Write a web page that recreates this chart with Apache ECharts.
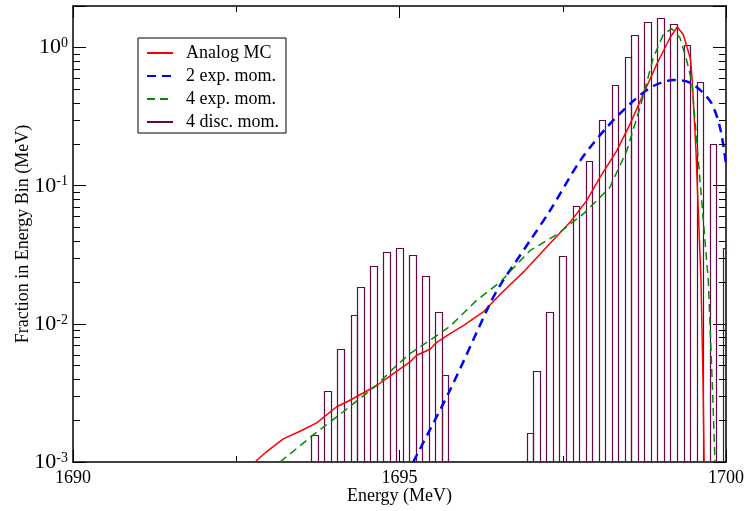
<!DOCTYPE html>
<html>
<head>
<meta charset="utf-8">
<script src="https://cdn.jsdelivr.net/npm/echarts@6/dist/echarts.min.js"></script>
<style>
html,body{margin:0;padding:0;background:#fff;}
#chart{width:747px;height:511px;}
</style>
</head>
<body>
<div id="chart"></div>
<script>
// ---------- data ----------
const X_MIN = 1690, X_MAX = 1700;
const Y_MIN = 0.001, Y_MAX = 2;
const X_TICKS = [1690, 1695, 1700];
const Y_TICK_EXPONENTS = [-3, -2, -1, 0];

const SERIES_NAMES = ['Analog MC', '2 exp. mom.', '4 exp. mom.', '4 disc. mom.'];

// Analog MC
const mcE = [1692.787, 1692.966, 1693.22, 1693.476, 1693.732, 1694.038, 1694.242, 1694.651, 1694.905, 1695.161,
             1695.263, 1695.467, 1695.57, 1695.773, 1695.977, 1696.283, 1696.539, 1696.92, 1697.3, 1697.611,
             1697.866, 1698.07, 1698.326, 1698.53, 1698.733, 1698.939, 1699.142, 1699.254, 1699.346, 1699.457,
             1699.484, 1699.54, 1699.617, 1699.648, 1699.665];
const mcV = [1.0e-3, 1.19e-3, 1.47e-3, 1.67e-3, 1.92e-3, 2.51e-3, 2.8e-3, 3.58e-3, 4.37e-3, 5.3e-3,
             5.93e-3, 6.55e-3, 7.35e-3, 8.49e-3, 9.7e-3, 0.0122, 0.0163, 0.0243, 0.038, 0.0543,
             0.078, 0.115, 0.179, 0.279, 0.459, 0.757, 1.178, 1.41, 1.245, 0.822,
             0.573, 0.179, 0.0206, 0.0039, 1.0e-3];

// 2 exp. mom.
const exp2E = [1695.21, 1695.773, 1696.386, 1696.539, 1697.0, 1697.305, 1697.764, 1698.173, 1698.58, 1698.887,
               1699.193, 1699.449, 1699.755, 1699.908, 1700.0];
const exp2V = [1.0e-3, 3.31e-3, 0.014, 0.019, 0.0401, 0.066, 0.151, 0.264, 0.411, 0.527,
               0.582, 0.557, 0.411, 0.264, 0.144];

// 4 exp. mom.
const exp4E = [1693.17, 1693.68, 1694.038, 1694.446, 1694.651, 1694.905, 1695.161, 1695.467, 1695.773, 1696.18,
               1696.539, 1697.0, 1697.4, 1697.815, 1698.22, 1698.48, 1698.683, 1698.887, 1699.04, 1699.168,
               1699.295, 1699.4, 1699.475, 1699.602, 1699.729, 1699.755, 1699.8, 1699.83];
const exp4V = [1.0e-3, 1.57e-3, 2.12e-3, 3.01e-3, 3.6e-3, 4.75e-3, 6.1e-3, 7.6e-3, 9.6e-3, 0.0148,
               0.02, 0.034, 0.044, 0.0625, 0.097, 0.179, 0.367, 0.844, 1.245, 1.37,
               1.18, 0.8, 0.573, 0.109, 0.0206, 0.01, 2.8e-3, 1.0e-3];

// 4 disc. mom. histogram: bin left edges and heights
const BIN_W = 0.1;
const discStart = [1693.65, 1693.85, 1694.05, 1694.25, 1694.35, 1694.55, 1694.75, 1694.95, 1695.15, 1695.35, 1695.55, 1695.65,
                   1696.95, 1697.05, 1697.25, 1697.45, 1697.65, 1697.85, 1698.05, 1698.25, 1698.45, 1698.55, 1698.75,
                   1698.95, 1699.15, 1699.35, 1699.55, 1699.75, 1699.95];
const discV = [1.57e-3, 3.29e-3, 6.58e-3, 0.01165, 0.01854, 0.02642, 0.0332, 0.0355, 0.0316, 0.0223, 0.01225, 4.23e-3,
               1.62e-3, 4.54e-3, 0.01225, 0.031, 0.0717, 0.152, 0.301, 0.533, 0.857, 1.23, 1.54,
               1.64, 1.47, 1.05, 0.56, 0.2, 0.0352];

// log-axis minor tick values (2..9 x 10^k)
const MINOR_MULT = [2, 3, 4, 5, 6, 7, 8, 9];

// ---------- styling ----------
const FONT = 'Liberation Serif';
const RED = '#ff0000', BLUE = '#0000ff', GREEN = '#008b00', MAROON = '#670748';

const minorY = [];
Y_TICK_EXPONENTS.forEach(e => MINOR_MULT.forEach(m => {
  const v = m * Math.pow(10, e);
  if (v < Y_MAX) minorY.push([X_MIN, v]);
}));

function pairs(a, b) { return a.map((x, i) => [x, b[i]]); }

const chart = echarts.init(document.getElementById('chart'), null, {renderer: 'canvas'});

const axisLineStyle = {color: '#000', width: 1.5};
const tickStyle = {color: '#000', width: 1};

function yLabel(value) {
  const e = Math.round(Math.log10(value));
  if (Y_TICK_EXPONENTS.indexOf(e) < 0) return '';
  if (Math.abs(value / Math.pow(10, e) - 1) > 1e-6) return '';
  return '{b|10}{s|' + e + '}';
}

const option = {
  backgroundColor: '#fff',
  animation: false,
  grid: {left: 73, right: 21, top: 6, bottom: 49, containLabel: false, outerBoundsMode: 'none'},
  legend: {
    orient: 'vertical', left: 138, top: 38,
    data: SERIES_NAMES,
    itemWidth: 26, itemHeight: 14, itemGap: 5,
    borderColor: '#000', borderWidth: 1, borderRadius: 0,
    padding: [6, 7, 2, 8],
    selectedMode: false,
    itemStyle: {opacity: 0},
    textStyle: {fontFamily: FONT, fontSize: 18, color: '#000', lineHeight: 18, padding: [0, 0, 0, 8]}
  },
  xAxis: [
    {
      type: 'value', min: X_MIN, max: X_MAX, interval: 5, position: 'bottom',
      axisLine: {lineStyle: axisLineStyle},
      axisTick: {inside: true, length: 12, lineStyle: tickStyle},
      minorTick: {show: true, splitNumber: 2, length: 6, lineStyle: tickStyle},
      splitLine: {show: false}, minorSplitLine: {show: false},
      axisLabel: {fontFamily: FONT, fontSize: 18, color: '#000', margin: 7,
                  formatter: v => (X_TICKS.indexOf(Math.round(v)) >= 0 ? String(Math.round(v)) : '')},
      name: 'Energy (MeV)', nameLocation: 'middle', nameGap: 25, nameMoveOverlap: false,
      nameTextStyle: {fontFamily: FONT, fontSize: 18, color: '#000'}
    },
    {
      type: 'value', min: X_MIN, max: X_MAX, interval: 5, position: 'top',
      axisLine: {lineStyle: axisLineStyle},
      axisTick: {inside: true, length: 12, lineStyle: tickStyle},
      minorTick: {show: true, splitNumber: 2, length: 6, lineStyle: tickStyle},
      splitLine: {show: false}, minorSplitLine: {show: false},
      axisLabel: {show: false}
    }
  ],
  yAxis: [
    {
      type: 'log', logBase: 10, min: Y_MIN, max: Y_MAX, position: 'left',
      axisLine: {lineStyle: axisLineStyle},
      axisTick: {inside: true, length: 13, lineStyle: tickStyle},
      splitLine: {show: false},
      axisLabel: {
        margin: 5, formatter: yLabel,
        rich: {
          b: {fontFamily: FONT, fontSize: 22, color: '#000', lineHeight: 22},
          s: {fontFamily: FONT, fontSize: 14, color: '#000', lineHeight: 14, verticalAlign: 'top'}
        }
      },
      name: 'Fraction in Energy Bin (MeV)', nameLocation: 'middle', nameGap: 41, nameMoveOverlap: false,
      nameTextStyle: {fontFamily: FONT, fontSize: 18, color: '#000'}
    },
    {
      type: 'log', logBase: 10, min: Y_MIN, max: Y_MAX, position: 'right',
      axisLine: {lineStyle: axisLineStyle},
      axisTick: {inside: true, length: 13, lineStyle: tickStyle},
      splitLine: {show: false},
      axisLabel: {show: false}
    }
  ],
  series: [
    {
      name: 'hist', type: 'custom', xAxisIndex: 0, yAxisIndex: 0, clip: true, silent: true, z: 2,
      data: pairs(discStart, discV),
      encode: {x: 0, y: 1},
      renderItem: function (params, api) {
        const s = api.value(0), v = api.value(1);
        const p0 = api.coord([s, v]);
        const p1 = api.coord([s + BIN_W, Y_MIN]);
        const x0 = Math.round(p0[0]) + 0.5, x1 = Math.round(p1[0]) + 0.5;
        return {
          type: 'rect',
          shape: {x: x0, y: Math.round(p0[1]) + 0.5, width: x1 - x0, height: p1[1] - Math.round(p0[1])},
          style: {fill: 'none', stroke: MAROON, lineWidth: 1.2}
        };
      }
    },
    {
      name: 'minorTicks', type: 'custom', xAxisIndex: 0, yAxisIndex: 0, clip: false, silent: true, z: 5,
      data: minorY,
      encode: {x: 0, y: 1},
      renderItem: function (params, api) {
        const cs = params.coordSys;
        const y = Math.round(api.coord([X_MIN, api.value(1)])[1]) + 0.5;
        const L = 7;
        return {
          type: 'group',
          children: [
            {type: 'line', shape: {x1: cs.x, y1: y, x2: cs.x + L, y2: y}, style: {stroke: '#000', lineWidth: 1}},
            {type: 'line', shape: {x1: cs.x + cs.width - L, y1: y, x2: cs.x + cs.width, y2: y}, style: {stroke: '#000', lineWidth: 1}}
          ]
        };
      }
    },
    {
      name: SERIES_NAMES[0], type: 'line', data: pairs(mcE, mcV), showSymbol: false, symbol: 'none', z: 4,
      lineStyle: {color: RED, width: 1.5}, itemStyle: {color: RED}
    },
    {
      name: SERIES_NAMES[1], type: 'line', data: pairs(exp2E, exp2V), showSymbol: false, symbol: 'none', smooth: 0.3, z: 4,
      lineStyle: {color: BLUE, width: 2.5, type: [9, 6]}, itemStyle: {color: BLUE}
    },
    {
      name: SERIES_NAMES[2], type: 'line', data: pairs(exp4E, exp4V), showSymbol: false, symbol: 'none', z: 4,
      lineStyle: {color: GREEN, width: 1.5, type: [8, 5]}, itemStyle: {color: GREEN}
    },
    {
      name: SERIES_NAMES[3], type: 'line', data: [], showSymbol: false, symbol: 'none',
      lineStyle: {color: MAROON, width: 1.2}, itemStyle: {color: MAROON}
    }
  ]
};
chart.setOption(option);
</script>
</body>
</html>
